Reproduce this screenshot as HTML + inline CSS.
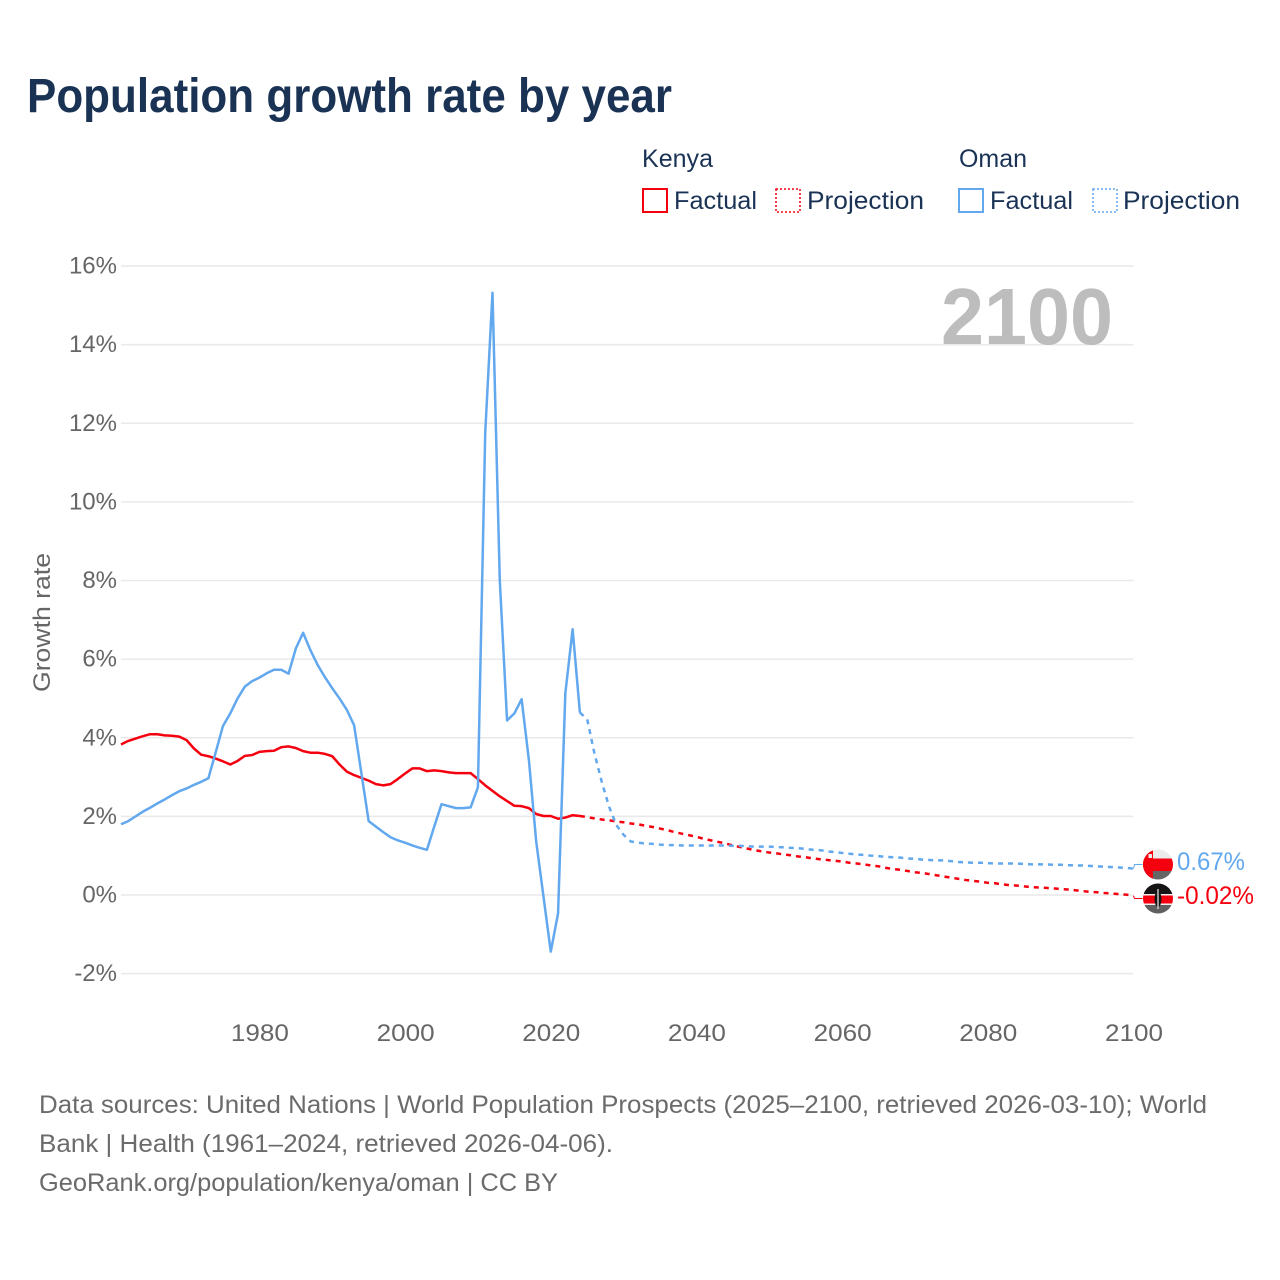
<!DOCTYPE html>
<html lang="en">
<head>
<meta charset="utf-8">
<title>Population growth rate by year</title>
<style>
html,body{margin:0;padding:0;background:#fff;width:1280px;height:1280px;overflow:hidden}
svg{display:block}
text{font-family:"Liberation Sans",sans-serif}
.leg{font-size:25px;fill:#1a3355}
.foot{font-size:25px;fill:#6b6b6b}
.tick{font-size:24px;fill:#666}
</style>
</head>
<body>
<svg id="chart" width="1280" height="1280" viewBox="0 0 1280 1280" xmlns="http://www.w3.org/2000/svg">
  <defs>
    <clipPath id="clip-oman"><circle cx="1158" cy="864.5" r="15"/></clipPath>
    <clipPath id="clip-kenya"><circle cx="1158" cy="898.5" r="15"/></clipPath>
  </defs>
  <rect width="1280" height="1280" fill="#fff"/>
  <text x="27" y="112" font-size="48" font-weight="700" fill="#1a3355" textLength="645" lengthAdjust="spacingAndGlyphs">Population growth rate by year</text>

  <g>
    <text class="leg" x="642" y="167" textLength="71" lengthAdjust="spacingAndGlyphs">Kenya</text>
    <text class="leg" x="959" y="167" textLength="68" lengthAdjust="spacingAndGlyphs">Oman</text>
    <g>
      <rect x="643" y="189" width="24" height="23" fill="none" stroke="#f5000f" stroke-width="2"/>
      <text class="leg" x="674" y="209" textLength="83" lengthAdjust="spacingAndGlyphs">Factual</text>
    </g>
    <g>
      <rect x="776" y="189" width="24" height="23" fill="none" stroke="#f5000f" stroke-width="1.5" stroke-dasharray="2 2"/>
      <text class="leg" x="807" y="209" textLength="117" lengthAdjust="spacingAndGlyphs">Projection</text>
    </g>
    <g>
      <rect x="959" y="189" width="24" height="23" fill="none" stroke="#62a8ee" stroke-width="2"/>
      <text class="leg" x="990" y="209" textLength="83" lengthAdjust="spacingAndGlyphs">Factual</text>
    </g>
    <g>
      <rect x="1093" y="189" width="24" height="23" fill="none" stroke="#62a8ee" stroke-width="1.5" stroke-dasharray="2 2"/>
      <text class="leg" x="1123" y="209" textLength="117" lengthAdjust="spacingAndGlyphs">Projection</text>
    </g>
  </g>

  <g id="grid"></g>
  <g id="yticks"></g>
  <g id="xticks"></g>
  <text class="tick" transform="translate(50,692) rotate(-90)" x="0" y="0" textLength="139" lengthAdjust="spacingAndGlyphs">Growth rate</text>
  <text x="941" y="344" font-size="80" font-weight="700" fill="#bdbdbd" textLength="172" lengthAdjust="spacingAndGlyphs">2100</text>

  <g id="series"></g>

  <g clip-path="url(#clip-oman)">
    <rect x="1143" y="849" width="30" height="31" fill="#ececec"/>
    <rect x="1143" y="871" width="30" height="10" fill="#666"/>
    <rect x="1143" y="858.5" width="30" height="12.5" fill="#f5000f"/>
    <rect x="1143" y="849" width="10" height="32" fill="#f5000f"/>
    <rect x="1148.5" y="854" width="3.5" height="4" fill="#eee"/>
  </g>
  <g clip-path="url(#clip-kenya)">
    <rect x="1143" y="883" width="30" height="11" fill="#151515"/>
    <rect x="1143" y="894" width="30" height="1.5" fill="#eee"/>
    <rect x="1143" y="895.5" width="30" height="8" fill="#f5000f"/>
    <rect x="1143" y="903.5" width="30" height="1.5" fill="#eee"/>
    <rect x="1143" y="905" width="30" height="10" fill="#5f5f5f"/>
    <ellipse cx="1158" cy="899" rx="3.5" ry="8" fill="#151515"/>
    <rect x="1157.4" y="889" width="1.2" height="20" fill="#eee"/>
  </g>
  <text x="1177" y="870" font-size="25" fill="#62a8ee" textLength="68" lengthAdjust="spacingAndGlyphs">0.67%</text>
  <text x="1177" y="904" font-size="25" fill="#f5000f" textLength="77" lengthAdjust="spacingAndGlyphs">-0.02%</text>

  <g>
    <text class="foot" x="39" y="1113" textLength="1168" lengthAdjust="spacingAndGlyphs">Data sources: United Nations | World Population Prospects (2025–2100, retrieved 2026-03-10); World</text>
    <text class="foot" x="39" y="1152" textLength="574" lengthAdjust="spacingAndGlyphs">Bank | Health (1961–2024, retrieved 2026-04-06).</text>
    <text class="foot" x="39" y="1191" textLength="519" lengthAdjust="spacingAndGlyphs">GeoRank.org/population/kenya/oman | CC BY</text>
  </g>
</svg>
<script>
var yTicks = [-2, 0, 2, 4, 6, 8, 10, 12, 14, 16];
var xTicks = [1980, 2000, 2020, 2040, 2060, 2080, 2100];
var factualStartYear = 1961;
var projectionStartYear = 2024;

var kenyaFactual = [3.83,3.92,3.98,4.04,4.09,4.09,4.06,4.05,4.03,3.94,
  3.73,3.57,3.53,3.47,3.40,3.32,3.41,3.54,3.56,3.64,
  3.66,3.67,3.76,3.78,3.74,3.66,3.62,3.62,3.59,3.53,
  3.32,3.14,3.05,2.98,2.91,2.82,2.79,2.82,2.95,3.09,
  3.22,3.22,3.15,3.17,3.15,3.12,3.10,3.10,3.10,2.95,
  2.79,2.65,2.51,2.39,2.27,2.26,2.21,2.06,2.01,2.01,
  1.94,1.97,2.03,2.01];

var omanFactual = [1.80,1.88,2.00,2.12,2.22,2.33,2.43,2.54,2.64,2.71,
  2.80,2.88,2.97,3.63,4.30,4.62,5.00,5.30,5.44,5.53,
  5.64,5.73,5.73,5.63,6.27,6.67,6.23,5.85,5.54,5.26,
  5.00,4.71,4.32,3.10,1.88,1.74,1.60,1.47,1.39,1.33,
  1.26,1.20,1.15,1.74,2.31,2.26,2.21,2.21,2.23,2.74,
  11.75,15.32,8.01,4.44,4.62,4.98,3.43,1.36,-0.04,-1.44,
  -0.47,5.13,6.76,4.64];

var kenyaProjection = [2.01,1.98,1.95,1.92,1.90,1.87,1.85,1.82,1.80,1.76,
  1.73,1.69,1.65,1.60,1.56,1.52,1.48,1.43,1.39,1.35,
  1.31,1.26,1.22,1.18,1.14,1.11,1.08,1.06,1.03,1.01,
  0.98,0.96,0.93,0.91,0.89,0.87,0.85,0.82,0.80,0.78,
  0.75,0.73,0.69,0.66,0.64,0.61,0.58,0.56,0.53,0.50,
  0.47,0.44,0.41,0.38,0.36,0.34,0.31,0.30,0.27,0.25,
  0.24,0.22,0.20,0.19,0.18,0.17,0.15,0.14,0.12,0.10,
  0.08,0.07,0.05,0.04,0.02,0.01,-0.02];

var omanProjection = [4.64,4.47,3.60,2.88,2.25,1.78,1.53,1.36,1.33,1.31,
  1.30,1.28,1.27,1.27,1.26,1.26,1.26,1.26,1.26,1.26,
  1.26,1.25,1.25,1.24,1.23,1.23,1.23,1.22,1.21,1.20,
  1.19,1.17,1.15,1.14,1.11,1.09,1.07,1.05,1.03,1.02,
  1.00,0.99,0.97,0.96,0.95,0.93,0.92,0.90,0.89,0.88,
  0.88,0.86,0.84,0.83,0.82,0.82,0.81,0.80,0.80,0.80,
  0.80,0.79,0.78,0.78,0.78,0.77,0.77,0.76,0.75,0.75,
  0.74,0.73,0.72,0.71,0.70,0.69,0.67];

var NS = 'http://www.w3.org/2000/svg';
var RED = '#f5000f';
var BLUE = '#62a8ee';

function xScale(year) { return 121 + (year - 1961) * (1133.5 - 121) / (2100 - 1961); }
function yScale(v) { return 895 - v * 39.31; }

function linePath(values, startYear) {
  var d = '';
  for (var i = 0; i < values.length; i++) {
    d += (i ? 'L' : 'M') + xScale(startYear + i).toFixed(2) + ' ' + yScale(values[i]).toFixed(2);
  }
  return d;
}

var grid = document.getElementById('grid');
var yG = document.getElementById('yticks');
var xG = document.getElementById('xticks');
var series = document.getElementById('series');

yTicks.forEach(function (t) {
  var l = document.createElementNS(NS, 'line');
  
  
  l.setAttribute('x1', xScale(1961));
  l.setAttribute('x2', xScale(2100));
  l.setAttribute('y1', yScale(t));
  l.setAttribute('y2', yScale(t));
  l.setAttribute('stroke', '#e9e9e9');
  l.setAttribute('stroke-width', '1.5');
  grid.appendChild(l);

  var s = document.createElementNS(NS, 'text');
  
  
  s.setAttribute('class', 'tick');
  s.setAttribute('x', 117);
  s.setAttribute('y', yScale(t) + 7.5);
  s.setAttribute('text-anchor', 'end');
  s.textContent = t + '%';
  yG.appendChild(s);
});

xTicks.forEach(function (t) {
  var s = document.createElementNS(NS, 'text');
  
  
  s.setAttribute('class', 'tick');
  s.setAttribute('x', xScale(t) - 28.5);
  s.setAttribute('y', 1041);
  s.setAttribute('textLength', '58');
  s.setAttribute('lengthAdjust', 'spacingAndGlyphs');
  s.textContent = t;
  xG.appendChild(s);
});

function addLine(name, values, startYear, color, dash) {
  var p = document.createElementNS(NS, 'path');
  
  
  p.setAttribute('d', linePath(values, startYear));
  p.setAttribute('fill', 'none');
  p.setAttribute('stroke', color);
  p.setAttribute('stroke-width', '2.5');
  p.setAttribute('stroke-linejoin', 'round');
  if (dash) p.setAttribute('stroke-dasharray', dash);
  series.appendChild(p);
}

function addConnector(name, lastValue, labelY, color) {
  var x = xScale(2100);
  var p = document.createElementNS(NS, 'polyline');
  
  
  p.setAttribute('points', x + ',' + yScale(lastValue) + ' ' + (x + 1) + ',' + labelY + ' ' + (x + 9) + ',' + labelY);
  p.setAttribute('fill', 'none');
  p.setAttribute('stroke', color);
  p.setAttribute('stroke-width', '1');
  series.appendChild(p);
}

addLine('kenya-factual-line', kenyaFactual, factualStartYear, RED);
addLine('kenya-projection-line', kenyaProjection, projectionStartYear, RED, '5 5');
addLine('oman-factual-line', omanFactual, factualStartYear, BLUE);
addLine('oman-projection-line', omanProjection, projectionStartYear, BLUE, '5 5');
addConnector('kenya-label-connector', kenyaProjection[kenyaProjection.length - 1], 898.5, RED);
addConnector('oman-label-connector', omanProjection[omanProjection.length - 1], 864.5, BLUE);
</script>
</body>
</html>
